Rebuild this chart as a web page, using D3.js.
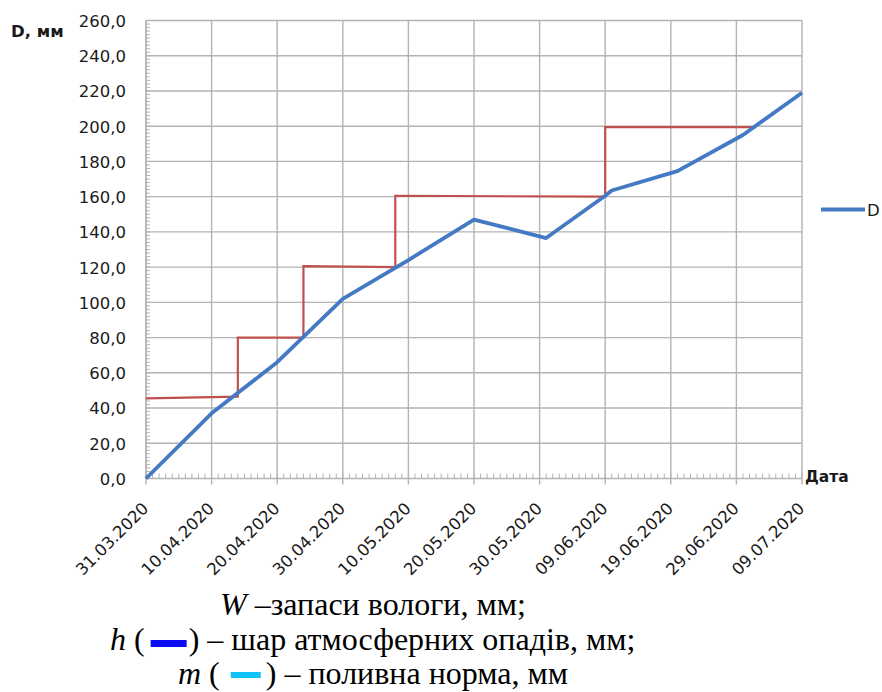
<!DOCTYPE html>
<html>
<head>
<meta charset="utf-8">
<script src="https://cdn.jsdelivr.net/npm/d3@7"></script>
<style>
  body { margin: 0; background: #fff; }
  svg { display: block; }
</style>
</head>
<body>
<svg id="chart" width="882" height="692"></svg>
<script>
// ---------- data ----------
const xTickLabels = ["31.03.2020","10.04.2020","20.04.2020","30.04.2020","10.05.2020","20.05.2020","30.05.2020","09.06.2020","19.06.2020","29.06.2020","09.07.2020"];
const yTickValues = [0,20,40,60,80,100,120,140,160,180,200,220,240,260];

// series D (blue)
const dDates  = ["31.03.2020","10.04.2020","20.04.2020","30.04.2020","10.05.2020","20.05.2020","31.05.2020","09.06.2020","10.06.2020","20.06.2020","30.06.2020","09.07.2020"];
const dValues = [0, 37, 66, 102, 124, 147, 136.5, 160.5, 163.5, 174.5, 195, 219];

// step series (red)
const wDates  = ["31.03.2020","14.04.2020","14.04.2020","24.04.2020","24.04.2020","08.05.2020","08.05.2020","09.06.2020","09.06.2020","02.07.2020"];
const wValues = [45.5, 46.5, 80, 80, 120.5, 120, 160.5, 160, 199.5, 199.5];

const yAxisTitle = "D, мм";
const xAxisTitle = "Дата";
const legendLabel = "D";

// ---------- setup ----------
const parse = d3.utcParse("%d.%m.%Y");
const fmt = d3.utcFormat("%d.%m.%Y");
const svg = d3.select("#chart");

const x = d3.scaleUtc()
  .domain([parse(xTickLabels[0]), parse(xTickLabels[xTickLabels.length - 1])])
  .range([146, 802]);
const y = d3.scaleLinear().domain([0, 260]).range([478.5, 20.5]);

const gridColor = "#b3b3b3";
const textColor = "#1a1a1a";
const tickFont = "DejaVu Sans, sans-serif";

// ---------- grid ----------
const grid = svg.append("g");
grid.selectAll("line.h").data(yTickValues).join("line")
  .attr("x1", x.range()[0]).attr("x2", x.range()[1])
  .attr("y1", d => y(d)).attr("y2", d => y(d))
  .attr("stroke", gridColor).attr("stroke-width", 1.4);

const xTickDates = xTickLabels.map(parse);
grid.selectAll("line.v").data(xTickDates).join("line")
  .attr("x1", d => x(d)).attr("x2", d => x(d))
  .attr("y1", y(260)).attr("y2", y(0) + 6)
  .attr("stroke", gridColor).attr("stroke-width", 1.4);

// minor ticks x (daily)
const days = d3.utcDay.range(x.domain()[0], d3.utcDay.offset(x.domain()[1], 1));
grid.selectAll("line.mx").data(days).join("line")
  .attr("x1", d => x(d)).attr("x2", d => x(d))
  .attr("y1", y(0)).attr("y2", y(0) - 5)
  .attr("stroke", gridColor).attr("stroke-width", 1);

// minor ticks y (every 2)
const minorY = d3.range(0, 261, 2);
grid.selectAll("line.my").data(minorY).join("line")
  .attr("x1", x.range()[0]).attr("x2", x.range()[0] + 4)
  .attr("y1", d => y(d)).attr("y2", d => y(d))
  .attr("stroke", gridColor).attr("stroke-width", 1);

// axis line
grid.append("line").attr("x1", x.range()[0]).attr("x2", x.range()[0])
  .attr("y1", y(260)).attr("y2", y(0)).attr("stroke", gridColor).attr("stroke-width", 1.4);

// ---------- axes labels ----------
const yAxis = svg.append("g").attr("transform", `translate(${x.range()[0]},0)`)
  .call(d3.axisLeft(y).tickValues(yTickValues).tickSize(0).tickPadding(20)
    .tickFormat(d => d.toFixed(1).replace(".", ",")));
yAxis.select(".domain").remove();
yAxis.selectAll("text").attr("font-family", tickFont).attr("font-size", 16.5)
  .attr("fill", textColor).attr("dy", "0.36em");

const xAxis = svg.append("g").attr("transform", `translate(0,${y(0)})`)
  .call(d3.axisBottom(x).tickValues(xTickDates).tickSize(0).tickFormat(fmt));
xAxis.select(".domain").remove();
xAxis.selectAll("text")
  .attr("font-family", tickFont).attr("font-size", 16.5).attr("fill", textColor)
  .attr("text-anchor", "end").attr("y", 0).attr("dy", 0)
  .attr("transform", "translate(3,31) rotate(-45)");

// axis titles
svg.append("text").attr("x", 11).attr("y", 37).text(yAxisTitle)
  .attr("font-family", tickFont).attr("font-weight", "bold").attr("font-size", 16.5)
  .attr("fill", textColor);
svg.append("text").attr("x", 805).attr("y", 482).text(xAxisTitle)
  .attr("font-family", tickFont).attr("font-weight", "bold").attr("font-size", 15.5)
  .attr("fill", textColor);

// ---------- series ----------
const wData = wDates.map((d, i) => ({ date: parse(d), v: wValues[i] }));
const dData = dDates.map((d, i) => ({ date: parse(d), v: dValues[i] }));
const line = d3.line().x(d => x(d.date)).y(d => y(d.v));

svg.append("path").datum(wData).attr("d", line)
  .attr("fill", "none").attr("stroke", "#c0504d").attr("stroke-width", 2.2)
  .attr("stroke-linejoin", "miter");
svg.append("path").datum(dData).attr("d", line)
  .attr("fill", "none").attr("stroke", "#4479c4").attr("stroke-width", 3.8)
  .attr("stroke-linejoin", "round");

// ---------- legend ----------
const lg = svg.append("g").attr("transform", "translate(821,209.5)");
lg.append("line").attr("x1", 0).attr("x2", 44).attr("y1", 0).attr("y2", 0)
  .attr("stroke", "#4479c4").attr("stroke-width", 3.8);
lg.append("text").attr("x", 46).attr("y", 6).text(legendLabel)
  .attr("font-family", tickFont).attr("font-size", 16.5).attr("fill", textColor);

// ---------- caption below ----------
const capFont = "Liberation Serif, Times New Roman, serif";
const capSize = 32;
function captionLine(x0, yb, pieces) {
  let cx = x0;
  pieces.forEach(p => {
    if (p.rect) {
      cx += p.gapBefore;
      svg.append("rect").attr("x", cx).attr("y", yb - p.raise - p.h)
        .attr("width", p.w).attr("height", p.h).attr("fill", p.rect);
      cx += p.w + p.gapAfter;
    } else {
      const t = svg.append("text").attr("x", cx).attr("y", yb).text(p.t)
        .attr("font-family", capFont).attr("font-size", capSize).attr("fill", "#000")
        .attr("font-style", p.i ? "italic" : "normal")
        .style("white-space", "pre").attr("xml:space", "preserve");
      cx += t.node().getComputedTextLength();
    }
  });
}
captionLine(220, 615, [{ t: "W", i: true }, { t: " –запаси вологи, мм;" }]);
captionLine(110, 650, [{ t: "h", i: true }, { t: " (" }, { rect: "#0a0af5", w: 36, h: 7, raise: 3, gapBefore: 6, gapAfter: 2 }, { t: ") – шар атмосферних опадів, мм;" }]);
captionLine(178, 684, [{ t: "m", i: true }, { t: " (" }, { rect: "#12c3f7", w: 30, h: 6, raise: 6, gapBefore: 11, gapAfter: 5 }, { t: ") – поливна норма, мм" }]);
</script>
</body>
</html>
